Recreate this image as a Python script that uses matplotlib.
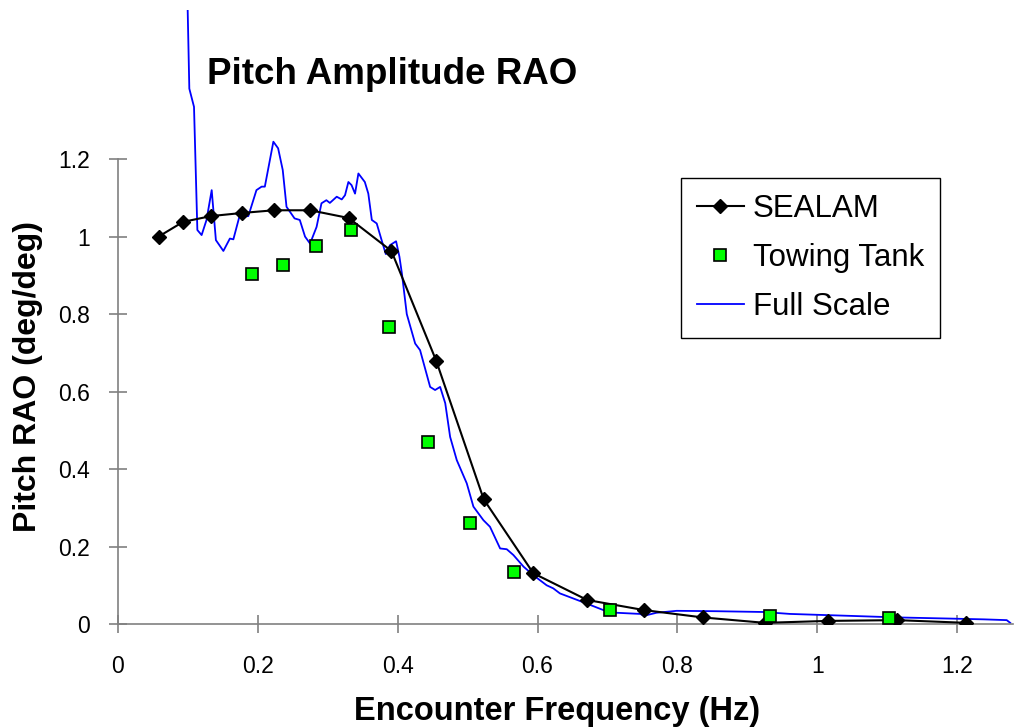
import numpy as np
import matplotlib
matplotlib.use("Agg")
import matplotlib.pyplot as plt

plt.rcParams['font.family'] = ['Liberation Sans', 'DejaVu Sans']

# SEALAM prediction
sealam_f = [0.058, 0.093, 0.133, 0.177, 0.223, 0.275, 0.330, 0.391, 0.455, 0.523,
            0.594, 0.671, 0.752, 0.836, 0.925, 1.016, 1.114, 1.213]
sealam_rao = [1.000, 1.038, 1.053, 1.061, 1.068, 1.068, 1.048, 0.963, 0.680, 0.322,
              0.131, 0.062, 0.036, 0.017, 0.003, 0.008, 0.010, 0.003]

# towing tank measurements
tank_f = [0.191, 0.2365, 0.283, 0.333, 0.387, 0.444, 0.504, 0.567, 0.703, 0.932, 1.102]
tank_rao = [0.903, 0.928, 0.977, 1.017, 0.767, 0.469, 0.260, 0.135, 0.036, 0.021, 0.016]

# full scale trial
full_f = [0.096, 0.102, 0.1087, 0.1135, 0.1196, 0.1266, 0.134, 0.140, 0.1507, 0.160,
          0.165, 0.1735, 0.1864, 0.198, 0.2054, 0.210, 0.2222, 0.229, 0.2356, 0.241,
          0.2525, 0.260, 0.2675, 0.2747, 0.284, 0.291, 0.298, 0.303, 0.3128, 0.320,
          0.3247, 0.3295, 0.334, 0.339, 0.3438, 0.353, 0.358, 0.363, 0.370, 0.377,
          0.383, 0.389, 0.3977, 0.4025, 0.406, 0.413, 0.425, 0.432, 0.4464, 0.4535,
          0.4607, 0.468, 0.475, 0.4845, 0.4988, 0.5083, 0.5226, 0.532, 0.5465, 0.556,
          0.5655, 0.580, 0.594, 0.613, 0.6225, 0.632, 0.651, 0.670, 0.694, 0.713,
          0.747, 0.752, 0.770, 0.799, 0.856, 0.923, 0.961, 1.047, 1.114, 1.190,
          1.238, 1.271, 1.276]
full_rao = [1.900, 1.382, 1.335, 1.017, 1.004, 1.043, 1.120, 0.991, 0.963, 0.995,
            0.993, 1.051, 1.053, 1.120, 1.129, 1.129, 1.245, 1.228, 1.172, 1.077,
            1.047, 1.043, 1.000, 0.982, 1.025, 1.086, 1.094, 1.087, 1.103, 1.096,
            1.107, 1.141, 1.133, 1.111, 1.163, 1.141, 1.111, 1.043, 1.034, 0.991,
            0.955, 0.978, 0.988, 0.948, 0.905, 0.800, 0.724, 0.707, 0.612, 0.604,
            0.612, 0.570, 0.483, 0.423, 0.363, 0.303, 0.268, 0.251, 0.195, 0.193,
            0.178, 0.148, 0.126, 0.100, 0.092, 0.079, 0.066, 0.053, 0.036, 0.029,
            0.026, 0.021, 0.029, 0.034, 0.033, 0.031, 0.026, 0.021, 0.017, 0.014,
            0.012, 0.010, 0.003]

ticks = [0, 0.2, 0.4, 0.6, 0.8, 1.0, 1.2]
tick_labels = ["0", "0.2", "0.4", "0.6", "0.8", "1", "1.2"]

fig = plt.figure(figsize=(10.24, 7.27), dpi=100)
ax = fig.add_axes([118 / 1024, 103 / 727, 895 / 1024, 614 / 727])

ax.plot(sealam_f, sealam_rao, color='black', lw=1.5, marker='D', ms=7,
        mfc='black', mec='black', label='SEALAM', zorder=3)
ax.plot(tank_f, tank_rao, ls='none', marker='s', ms=8.5, mfc='#00ff00',
        mec='black', mew=1.2, label='Towing Tank', zorder=4)
ax.plot(full_f, full_rao, color='#0000ff', lw=1.3, label='Full Scale', zorder=2)

ax.set_xlim(0, 1.28)
ax.set_ylim(0, 1.585)
ax.set_xticks(ticks)
ax.set_xticklabels(tick_labels)
ax.set_yticks(ticks)
ax.set_yticklabels(tick_labels)

for s in ['top', 'right']:
    ax.spines[s].set_visible(False)
for s in ['left', 'bottom']:
    ax.spines[s].set_color('#808080')
    ax.spines[s].set_linewidth(1.2)
ax.spines['left'].set_bounds(0, 1.2)
ax.tick_params(direction='inout', length=13, width=1.2, color='#808080',
               labelsize=16.5)
ax.tick_params(axis='x', pad=16)
ax.tick_params(axis='y', pad=14)

fig.text(392 / 1024, 1 - 74 / 727, "Pitch Amplitude RAO", fontsize=26.5,
         fontweight='bold', ha='center', va='center')
fig.text(557 / 1024, 7 / 727, "Encounter Frequency (Hz)", fontsize=23.5,
         fontweight='bold', ha='center', va='baseline')
fig.text(28 / 1024, 1 - 376 / 727, "Pitch RAO (deg/deg)", fontsize=23,
         fontweight='bold', ha='center', va='center', rotation=90)

leg = ax.legend(loc='upper left', bbox_to_anchor=(681 / 1024, 1 - 178 / 727),
                bbox_transform=fig.transFigure, fontsize=22.5, frameon=True,
                fancybox=False, edgecolor='black', framealpha=1,
                handlelength=1.5, handletextpad=0.3, labelspacing=0.62,
                borderpad=0.5, borderaxespad=0)
leg.get_frame().set_linewidth(1.0)

fig.savefig("out.png", dpi=100)
